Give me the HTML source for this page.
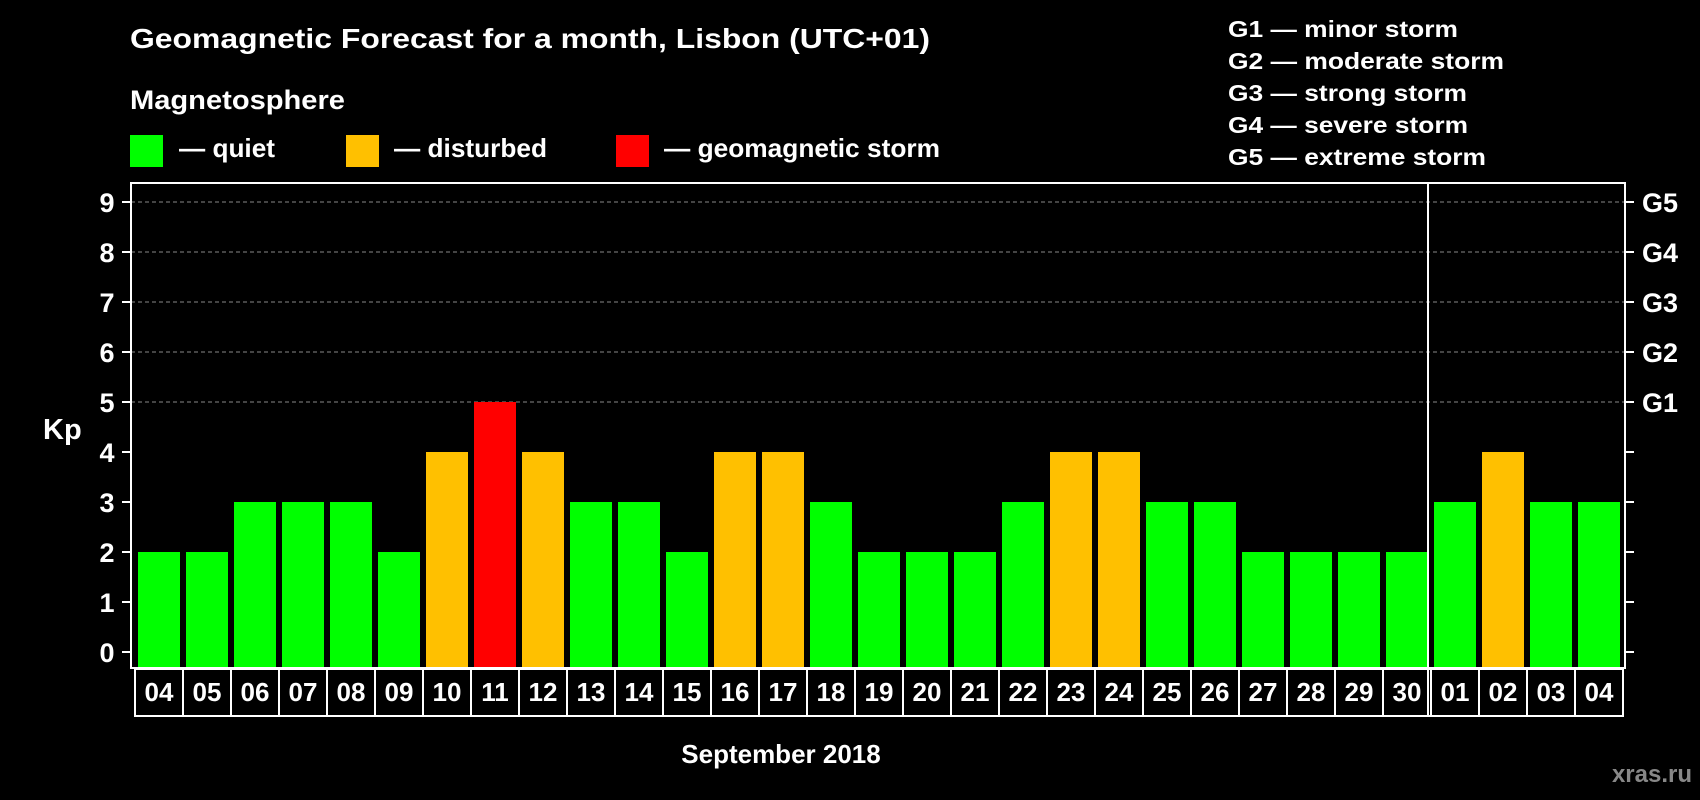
<!DOCTYPE html>
<html><head><meta charset="utf-8"><style>
html,body{margin:0;padding:0;background:#000;}
svg{display:block;font-family:"Liberation Sans",Arial,sans-serif;font-weight:bold;}
</style></head><body>
<svg id="chart" width="1700" height="800" viewBox="0 0 1700 800" xmlns="http://www.w3.org/2000/svg">
<rect width="1700" height="800" fill="#000"/>
<text x="130" y="48" fill="#fff" font-size="28" textLength="800" lengthAdjust="spacingAndGlyphs">Geomagnetic Forecast for a month, Lisbon (UTC+01)</text>
<text x="130" y="109" fill="#fff" font-size="27" textLength="215" lengthAdjust="spacingAndGlyphs">Magnetosphere</text>
<g>
<rect x="130" y="135" width="33" height="32" fill="#00ff00"/>
<text x="179" y="157" fill="#fff" font-size="26" textLength="96" lengthAdjust="spacingAndGlyphs">— quiet</text></g>
<g>
<rect x="346" y="135" width="33" height="32" fill="#ffc000"/>
<text x="394" y="157" fill="#fff" font-size="26" textLength="153" lengthAdjust="spacingAndGlyphs">— disturbed</text></g>
<g>
<rect x="616" y="135" width="33" height="32" fill="#ff0000"/>
<text x="664" y="157" fill="#fff" font-size="26" textLength="276" lengthAdjust="spacingAndGlyphs">— geomagnetic storm</text></g>
<g fill="#fff" font-size="23">
<text x="1228" y="37" textLength="230" lengthAdjust="spacingAndGlyphs">G1 — minor storm</text>
<text x="1228" y="69" textLength="276" lengthAdjust="spacingAndGlyphs">G2 — moderate storm</text>
<text x="1228" y="101" textLength="239" lengthAdjust="spacingAndGlyphs">G3 — strong storm</text>
<text x="1228" y="133" textLength="240" lengthAdjust="spacingAndGlyphs">G4 — severe storm</text>
<text x="1228" y="165" textLength="258" lengthAdjust="spacingAndGlyphs">G5 — extreme storm</text>
</g>
<g id="grid"></g><g id="bars"></g><g id="axes"></g><g id="dates"></g>
<text x="43" y="439" fill="#fff" font-size="29">Kp</text>
<text x="781" y="763" fill="#fff" font-size="26" text-anchor="middle">September 2018</text>
<text x="1692" y="782" fill="#888" font-size="24" text-anchor="end">xras.ru</text>
</svg>
<script>
const days = ["04","05","06","07","08","09","10","11","12","13","14","15","16","17","18","19","20","21","22","23","24","25","26","27","28","29","30","01","02","03","04"];
const kpValues = [2,2,3,3,3,2,4,5,4,3,3,2,4,4,3,2,2,2,3,4,4,3,3,2,2,2,2,3,4,3,3];
const yTicks = [0,1,2,3,4,5,6,7,8,9];
const gLabels = ["","","","","","G1","G2","G3","G4","G5"];
const NS="http://www.w3.org/2000/svg";
const L=131,R=1625,T=183,B=668,x0=135,pitch=48;
function y(v){return 652-50*v;}
function x(i){return x0+i*pitch;}
function mk(tag,attrs,parent){const e=document.createElementNS(NS,tag);for(const k in attrs)e.setAttribute(k,attrs[k]);parent.appendChild(e);return e;}
const grid=document.getElementById('grid'),bars=document.getElementById('bars'),axes=document.getElementById('axes'),dates=document.getElementById('dates');
yTicks.forEach((t,i)=>{
  if(t>=5){const g=mk('line',{x1:L,x2:R,y1:y(t),y2:y(t),stroke:'#888','stroke-dasharray':'4 3','stroke-width':1},grid);
  
  }
  const tl=mk('line',{x1:L-9,x2:L,y1:y(t),y2:y(t),stroke:'#fff','stroke-width':2},axes);
  
  
  const tr=mk('line',{x1:R,x2:R+9,y1:y(t),y2:y(t),stroke:'#fff','stroke-width':2},axes);
  
  
  const lb=mk('text',{x:107,y:y(t)+10,fill:'#fff','font-size':27,'text-anchor':'middle'},axes);
  lb.textContent=t;
  
  
  if(gLabels[i]){const gl=mk('text',{x:1642,y:y(t)+10,fill:'#fff','font-size':27},axes);
  gl.textContent=gLabels[i];
  
  }
});
kpValues.forEach((v,i)=>{
  const c=v>=5?'#ff0000':(v>=4?'#ffc000':'#00ff00');
  const b=mk('rect',{x:x(i)+3,y:y(v),width:42,height:B-y(v),fill:c},bars);
  
  
  const cell=mk('rect',{x:x(i),y:B+1,width:pitch,height:47,fill:'none',stroke:'#fff','stroke-width':2},dates);
  
  
  const t=mk('text',{x:x(i)+pitch/2,y:701,fill:'#fff','font-size':26,'text-anchor':'middle'},dates);
  t.textContent=days[i];
  
  
});
const fr=mk('rect',{x:L,y:T,width:R-L,height:B-T,fill:'none',stroke:'#fff','stroke-width':2},axes);


const sep=mk('line',{x1:x(27)-3,x2:x(27)-3,y1:T,y2:716,stroke:'#fff','stroke-width':2},axes);


</script>
</body></html>
